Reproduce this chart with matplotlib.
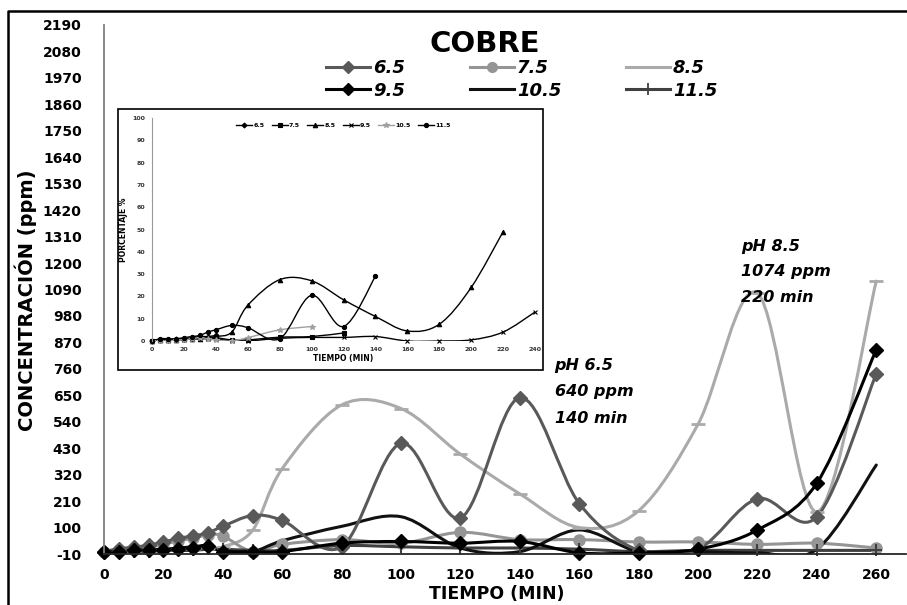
import numpy as np
import matplotlib
matplotlib.use("Agg")
import matplotlib.pyplot as plt
from matplotlib.path import Path
from matplotlib.patches import PathPatch, Rectangle
from matplotlib.lines import Line2D

plt.rcParams['font.family'] = ['DejaVu Sans']
plt.rcParams['axes.unicode_minus'] = False

# main chart: copper concentration (ppm) vs time (min)
time_min = [0, 5, 10, 15, 20, 25, 30, 35, 40, 50, 60, 80, 100, 120, 140, 160, 180, 200, 220, 240, 260]
ph_65 = [0, 12, 18, 27, 40, 55, 65, 78, 105, 150, 130, 20, 450, 140, 640, 200, 5, 10, 220, 145, 740]
ph_75 = [0, 5, 10, 20, 30, 45, 55, 70, 65, 0, 30, 50, 35, 80, 50, 50, 40, 40, 30, 35, 15]
ph_85 = [0, 0, 0, 5, 5, 10, 10, 15, 20, 88, 345, 610, 595, 405, 240, 100, 170, 530, 1074, 165, 1125]
ph_95 = [0, 0, 5, 5, 8, 10, 15, 25, 0, 0, 0, 35, 42, 35, 42, -5, -5, 10, 90, 285, 840]
ph_105 = [0, 3, 5, 8, 10, 15, 20, 25, 5, 0, 45, 105, 145, 15, 0, 90, 0, 0, -5, 10, 360]
ph_115 = [0, 0, 0, 0, 5, 5, 5, 10, 10, 5, 5, 25, 20, 15, 15, 10, 0, 5, 5, 5, 5]
series_labels = ['6.5', '7.5', '8.5', '9.5', '10.5', '11.5']
x_ticks = list(range(0, 261, 20))
y_ticks = list(range(-10, 2191, 110))

# inset: percentage vs time
inset_t = [0, 5, 10, 15, 20, 25, 30, 35, 40, 50, 60, 80, 100, 120, 140, 160, 180, 200, 220, 240]
in_65 = [0, 0.5, 0.5, 1, 1, 1.5, 2, 2, 2.5]
in_75 = [0, 0.5, 0.5, 0.5, 1, 1, 1.5, 1.5, 1.5, 0.5, 0.5, 1.7, 2, 3.6]
in_85 = [0, 0.5, 0.5, 0.5, 1, 1, 1, 1.5, 2, 4, 16, 27.5, 27, 18.5, 11, 4.5, 7.5, 24, 49]
in_95 = [0, 0.5, 0.5, 0.5, 0.5, 1, 1, 1, 1, 0, 0, 1.2, 1.6, 1.6, 2, 0, 0, 0.5, 4, 13]
in_105 = [0, 0, 0, 0.5, 0.5, 1, 1.5, 1, 0.5, 0, 1.5, 5, 6.5]
in_115 = [0, 1, 1, 1, 1.5, 2, 2.5, 4, 5, 7, 6, 1, 20.5, 6.5, 29]
inset_x_ticks = list(range(0, 241, 20))
inset_y_ticks = list(range(0, 101, 10))


def smooth_path(xs, ys):
    # excel-like smoothed line: cubic bezier through every point
    pts = np.column_stack([xs, ys]).astype(float)
    n = len(pts)
    verts = [pts[0]]
    codes = [Path.MOVETO]
    for i in range(n - 1):
        p0 = pts[i - 1] if i > 0 else pts[i]
        p1, p2 = pts[i], pts[i + 1]
        p3 = pts[i + 2] if i + 2 < n else pts[i + 1]
        verts += [p1 + (p2 - p0) / 6, p2 - (p3 - p1) / 6, p2]
        codes += [Path.CURVE4] * 3
    return Path(verts, codes)


def draw_series(ax, xs, ys, color, lw, marker, ms, mew=1.0, mfc=None, z=2):
    ax.add_patch(PathPatch(smooth_path(xs, ys), fill=False, edgecolor=color, lw=lw,
                           zorder=z, capstyle='round', joinstyle='round'))
    if marker:
        ax.plot(xs, ys, ls='none', marker=marker, ms=ms, color=color, mew=mew,
                mfc=mfc or color, zorder=z + 0.1, clip_on=False)


W, H = 907, 605
fig = plt.figure(figsize=(W / 100, H / 100), dpi=100)

# main axes
ax = fig.add_axes([104 / W, 1 - 554 / H, (906 - 104) / W, (554 - 25) / H])
ax.set_xlim(0, 270)
ax.set_ylim(-10, 2190)

main_style = [
    (ph_85, '#aaaaaa', '_', 10, 2.0),
    (ph_75, '#959595', 'o', 8, 1.0),
    (ph_115, '#404040', '+', 9, 1.5),
    (ph_105, '#111111', None, 0, 1.0),
    (ph_65, '#595959', 'D', 7.5, 1.0),
    (ph_95, '#000000', 'D', 7.5, 1.0),
]
for vals, col, mk, ms, mew in main_style:
    draw_series(ax, time_min, vals, col, 2.2, mk, ms, mew)

ax.set_xticks(x_ticks)
ax.set_yticks(y_ticks)
ax.tick_params(axis='both', length=0, labelsize=10)
ax.tick_params(axis='y', pad=16)
ax.tick_params(axis='x', pad=10)
for lab in ax.get_xticklabels() + ax.get_yticklabels():
    lab.set_fontweight('bold')
ax.spines['top'].set_visible(False)
ax.spines['right'].set_visible(False)
ax.spines['left'].set_color('#7f7f7f')
ax.spines['left'].set_linewidth(1.3)
ax.spines['bottom'].set_color('#262626')
ax.spines['bottom'].set_linewidth(1.3)
ax.set_ylabel('CONCENTRACIÓN (ppm)', fontsize=14, fontweight='bold')
ax.yaxis.set_label_coords(-0.083, 0.48)
ax.set_xlabel('TIEMPO (MIN)', fontsize=12.5, fontweight='bold', va='center')
ax.xaxis.set_label_coords(0.49, -0.076)

# annotations
ann_style = dict(fontsize=11.5, fontweight='bold', fontstyle='italic', va='center', ha='left')
for txt, y in [('pH 6.5', 772), ('640 ppm', 664), ('140 min', 555)]:
    ax.text(151.7, y, txt, **ann_style)
for txt, y in [('pH 8.5', 1270), ('1074 ppm', 1165), ('220 min', 1055)]:
    ax.text(214.5, y, txt, **ann_style)

# legend + title
fig.text(485 / W, 1 - 44 / H, 'COBRE', fontsize=21, fontweight='bold', ha='center', va='center')
handles = [
    Line2D([], [], color='#595959', marker='D', ms=6, lw=2.2),
    Line2D([], [], color='#000000', marker='D', ms=6, lw=2.2),
    Line2D([], [], color='#959595', marker='o', ms=7, lw=2.2),
    Line2D([], [], color='#111111', lw=2.2),
    Line2D([], [], color='#aaaaaa', lw=2.2),
    Line2D([], [], color='#404040', marker='+', ms=8, mew=1.3, lw=2.2),
]
order = ['6.5', '9.5', '7.5', '10.5', '8.5', '11.5']
leg = fig.legend(handles, order, ncol=3, loc='upper left',
                 bbox_to_anchor=(326 / W, 1 - 59 / H), frameon=False,
                 borderpad=0, borderaxespad=0, handlelength=2.45, handletextpad=0.15,
                 columnspacing=3.6, labelspacing=0.25,
                 prop={'weight': 'bold', 'style': 'italic', 'size': 13})

# figure border (left and top)
fig.add_artist(Line2D([8 / W, 8 / W, 1], [0, 1 - 11 / H, 1 - 11 / H],
                      transform=fig.transFigure, color='black', lw=1.8))

# inset
axi = fig.add_axes([152 / W, 1 - 341 / H, (535 - 152) / W, (341 - 118) / H])
axi.set_facecolor('none')
axi.add_patch(Rectangle((118 / W, 1 - 370 / H), (543 - 118) / W, (370 - 109) / H,
                        transform=fig.transFigure, facecolor='white', edgecolor='black',
                        lw=1.2, zorder=0.5, clip_on=False))
axi.set_xlim(0, 240)
axi.set_ylim(0, 100)

inset_style = [
    (in_65, 'k', 'D', 2.5, 'k'),
    (in_75, 'k', 's', 2.8, 'k'),
    (in_85, 'k', '^', 3.2, 'k'),
    (in_95, 'k', 'x', 3.5, 'k'),
    (in_105, '#a0a0a0', '*', 4, '#a0a0a0'),
    (in_115, 'k', 'o', 3, 'k'),
]
in_handles = []
for vals, col, mk, ms, mfc in inset_style:
    xs = inset_t[:len(vals)]
    draw_series(axi, xs, vals, col, 1.0, mk, ms, mew=0.8, mfc=mfc)
    in_handles.append(Line2D([], [], color=col, marker=mk, ms=ms, mew=0.8, lw=1.0))

axi.set_xticks(inset_x_ticks)
axi.set_yticks(inset_y_ticks)
axi.tick_params(axis='both', length=0, labelsize=4.5, labelcolor='#333333')
axi.tick_params(axis='y', pad=5)
axi.tick_params(axis='x', pad=4)
for lab in axi.get_xticklabels() + axi.get_yticklabels():
    lab.set_fontweight('bold')
for s in ['top', 'right', 'bottom']:
    axi.spines[s].set_visible(False)
axi.spines['left'].set_color('#999999')
axi.spines['left'].set_linewidth(0.8)
axi.set_xlabel('TIEMPO (MIN)', fontsize=5.5, fontweight='bold', labelpad=2)
axi.set_ylabel('PORCENTAJE %', fontsize=5.5, fontweight='bold', labelpad=3)
axi.legend(in_handles, series_labels, ncol=6, loc='center', bbox_to_anchor=(0.5, 0.965),
           frameon=False, handlelength=2.5, handletextpad=0.2,
           columnspacing=1.2, prop={'weight': 'bold', 'size': 4.5})

fig.savefig('out.png', dpi=100)
